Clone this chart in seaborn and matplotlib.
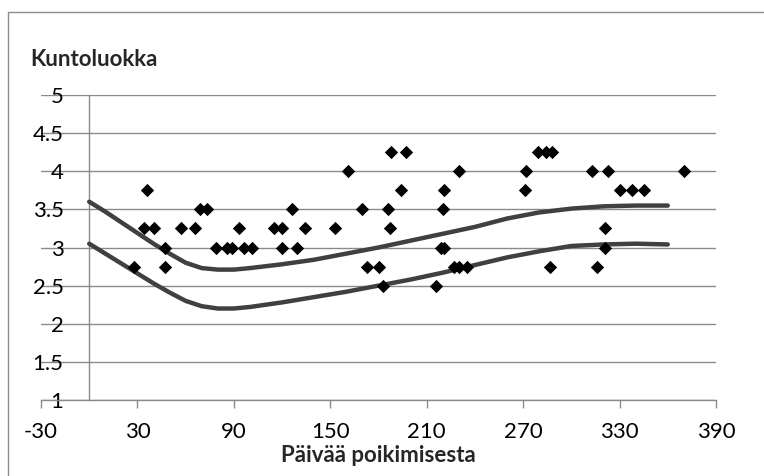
import numpy as np
import pandas as pd
import matplotlib
matplotlib.use('Agg')
import matplotlib.pyplot as plt
from matplotlib.lines import Line2D
import seaborn as sns

# havaitut pisteet (päivää poikimisesta, kuntoluokka)
paivat = [36, 34, 40, 28, 47, 47, 57, 66, 69, 73, 79, 86, 89, 93, 96, 101,
          115, 120, 120, 126, 129, 134, 153, 161, 170, 173, 180, 183, 186, 187,
          188, 194, 197, 216, 219, 221, 220, 221, 230, 227, 230, 235, 272, 271,
          279, 284, 288, 287, 313, 323, 370, 330, 338, 345, 321, 321, 316]
kunto = [3.75, 3.25, 3.25, 2.75, 3.0, 2.75, 3.25, 3.25, 3.5, 3.5, 3.0, 3.0, 3.0, 3.25, 3.0, 3.0,
         3.25, 3.25, 3.0, 3.5, 3.0, 3.25, 3.25, 4.0, 3.5, 2.75, 2.75, 2.5, 3.5, 3.25,
         4.25, 3.75, 4.25, 2.5, 3.0, 3.0, 3.5, 3.75, 4.0, 2.75, 2.75, 2.75, 4.0, 3.75,
         4.25, 4.25, 4.25, 2.75, 4.0, 4.0, 4.0, 3.75, 3.75, 3.75, 3.25, 3.0, 2.75]

# tavoitealueen ylä- ja alaraja
kayra_x = [0, 10, 20, 30, 40, 50, 60, 70, 80, 90, 100, 120, 140, 160, 180, 200,
           220, 240, 260, 280, 300, 320, 340, 360]
ylaraja = [3.60, 3.47, 3.33, 3.19, 3.05, 2.92, 2.80, 2.73, 2.71, 2.71, 2.73, 2.78,
           2.84, 2.92, 3.00, 3.09, 3.18, 3.27, 3.38, 3.46, 3.51, 3.54, 3.55, 3.55]
alaraja = [3.05, 2.92, 2.79, 2.66, 2.53, 2.41, 2.30, 2.23, 2.20, 2.20, 2.22, 2.28,
           2.35, 2.42, 2.50, 2.58, 2.67, 2.77, 2.87, 2.95, 3.02, 3.04, 3.05, 3.04]

x_ticks = [-30, 30, 90, 150, 210, 270, 330, 390]
y_ticks = [1, 1.5, 2, 2.5, 3, 3.5, 4, 4.5, 5]
y_labels = ['1', '1.5', '2', '2.5', '3', '3.5', '4', '4.5', '5']

sns.set_theme(style='white')
plt.rcParams['font.family'] = ['Lato', 'DejaVu Sans']

W, H = 764, 476
fig = plt.figure(figsize=(W / 100, H / 100), dpi=100)
ax = fig.add_axes([41 / W, (H - 400) / H, (716 - 41) / W, (400 - 95) / H])

harmaa = '#8a8a8a'
df_pisteet = pd.DataFrame({'paiva': paivat, 'kunto': kunto})
for raja in [ylaraja, alaraja]:
    sns.lineplot(x=kayra_x, y=raja, ax=ax, color='#404040', lw=3.2,
                 sort=False, estimator=None, solid_capstyle='round', zorder=3)
sns.scatterplot(data=df_pisteet, x='paiva', y='kunto', ax=ax, marker='D',
                color='black', edgecolor='black', s=46, linewidth=0, zorder=4)

ax.set_xlim(-30, 390)
ax.set_ylim(1, 5)
ax.set_xticks(x_ticks)
ax.set_xticklabels([str(t) for t in x_ticks])
ax.set_yticks(y_ticks)
ax.set_yticklabels(y_labels)
ax.set_xlabel('')
ax.set_ylabel('')

ax.grid(axis='y', color=harmaa, lw=1.0)
ax.grid(axis='x', visible=False)
ax.set_axisbelow(True)

for s in ['top', 'right']:
    ax.spines[s].set_visible(False)
ax.spines['left'].set_position(('data', 0))
ax.spines['left'].set_color(harmaa)
ax.spines['bottom'].set_color(harmaa)
ax.spines['left'].set_linewidth(1.0)
ax.spines['bottom'].set_linewidth(1.0)

ax.tick_params(axis='x', direction='out', length=5.5, width=1.0, color=harmaa,
               pad=10, labelsize=16, labelcolor='black', bottom=True)
ax.tick_params(axis='y', length=0, pad=18.5, labelsize=16, labelcolor='black', left=True)

fig.text(30 / W, 1 - 66 / H, 'Kuntoluokka', fontsize=16, fontweight='bold',
         ha='left', va='baseline')
fig.text(378 / W, 1 - 462 / H, 'Päivää poikimisesta', fontsize=16, fontweight='bold',
         ha='center', va='baseline')

# kaavion reunaviiva
fig.add_artist(Line2D([8 / W, 8 / W, 1], [0, 1 - 12 / H, 1 - 12 / H],
                      transform=fig.transFigure, color=harmaa, lw=1.0))

fig.savefig('out.png', dpi=100)
